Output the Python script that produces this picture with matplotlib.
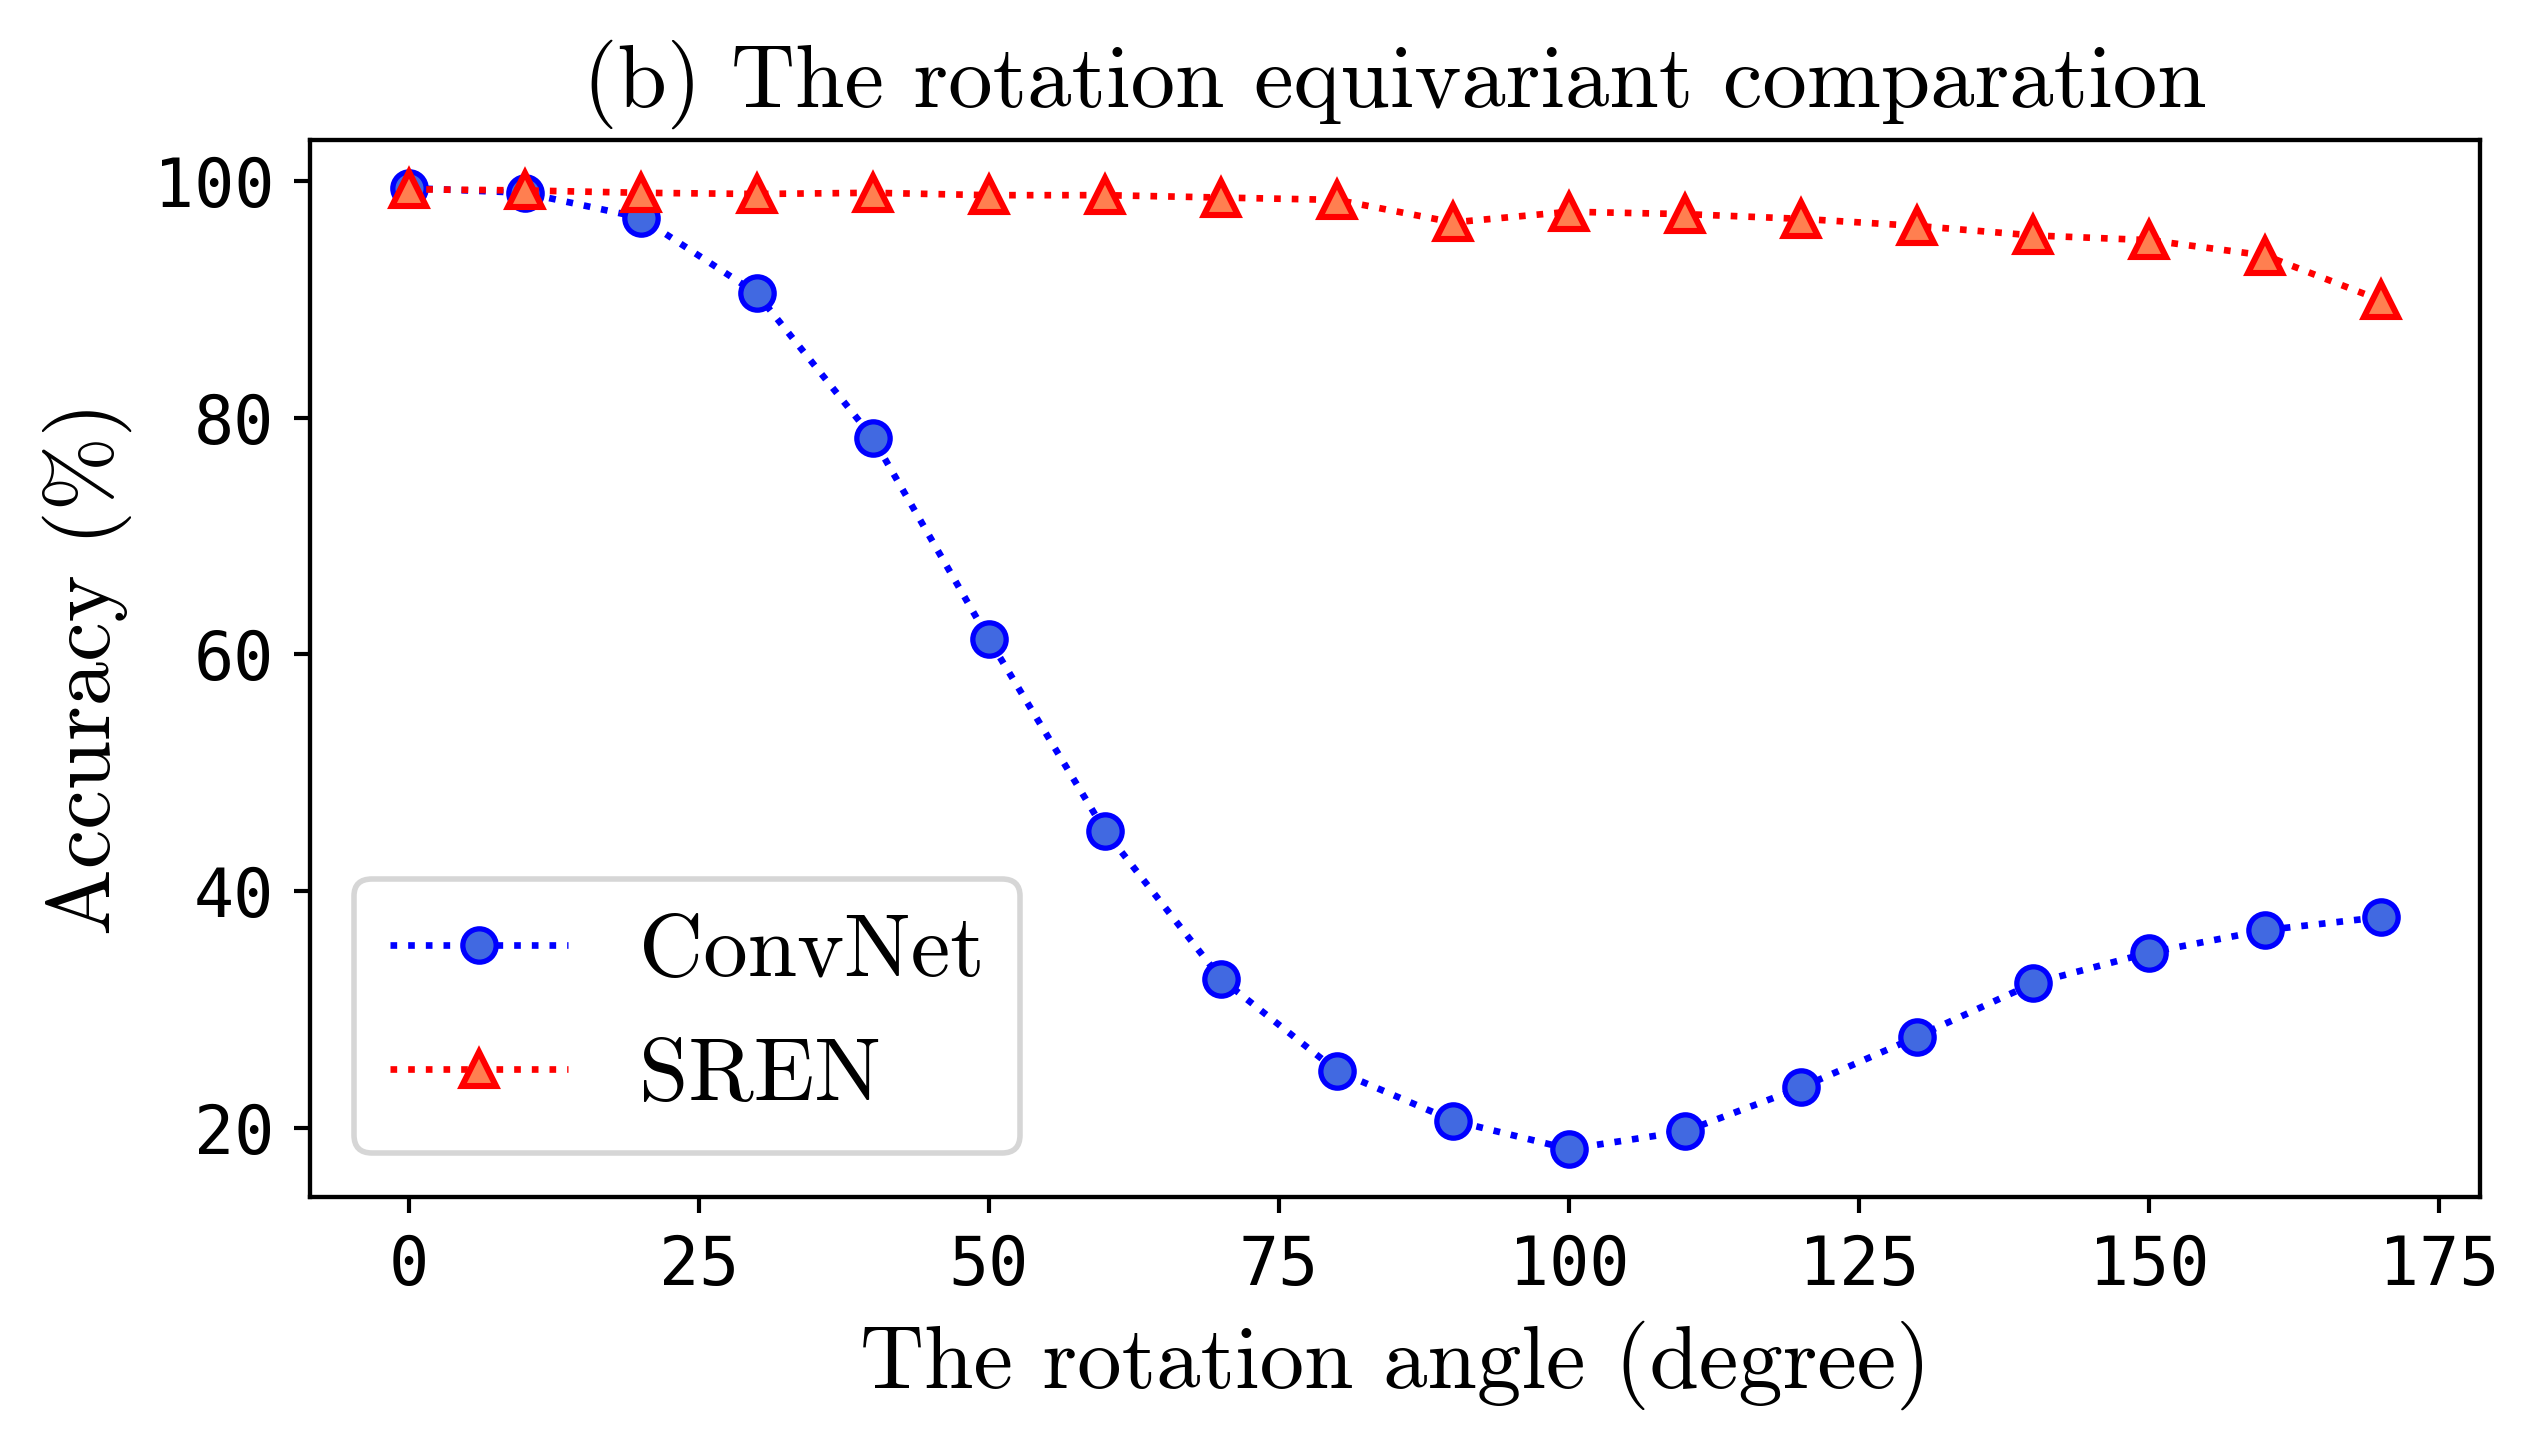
import numpy as np
import matplotlib
matplotlib.use("Agg")
import matplotlib.pyplot as plt

# ---------------------------------------------------------------- data
angles = [0, 10, 20, 30, 40, 50, 60, 70, 80, 90,
          100, 110, 120, 130, 140, 150, 160, 170]
convnet_acc = [99.4, 99.0, 96.9, 90.5, 78.3, 61.3, 45.1, 32.6, 24.8, 20.6,
               18.2, 19.7, 23.4, 27.7, 32.2, 34.8, 36.7, 37.8]
sren_acc = [99.3, 99.2, 99.0, 98.9, 99.0, 98.8, 98.8, 98.6, 98.4, 96.5,
            97.4, 97.2, 96.8, 96.2, 95.4, 95.0, 93.7, 89.9]

SERIF = "cmr10"

plt.rcParams['font.family'] = 'DejaVu Sans Mono'

fig = plt.figure(figsize=(6.35, 3.6275), dpi=400)
ax = fig.add_subplot(111)
fig.subplots_adjust(left=0.122, right=0.9764, top=0.9035, bottom=0.175)

ax.plot(angles, convnet_acc, linestyle=':', color='blue', linewidth=1.2,
        marker='o', markersize=6.0, markerfacecolor='royalblue',
        markeredgecolor='blue', markeredgewidth=0.95, label='ConvNet')
ax.plot(angles, sren_acc, linestyle=':', color='red', linewidth=1.2,
        marker='^', markersize=6.0, markerfacecolor='coral',
        markeredgecolor='red', markeredgewidth=1.1, label='SREN')

ax.set_title('(b) The rotation equivariant comparation',
             fontfamily=SERIF, fontsize=16)
ax.set_xlabel('The rotation angle (degree)', fontfamily=SERIF, fontsize=16)
ax.set_ylabel('Accuracy (%)', fontfamily=SERIF, fontsize=16)

ax.tick_params(labelsize=12, length=2.9, width=0.75)
for sp in ax.spines.values():
    sp.set_linewidth(0.78)

ax.legend(loc='lower left', prop={'family': SERIF, 'size': 16})

fig.savefig('out.png', dpi=400)
